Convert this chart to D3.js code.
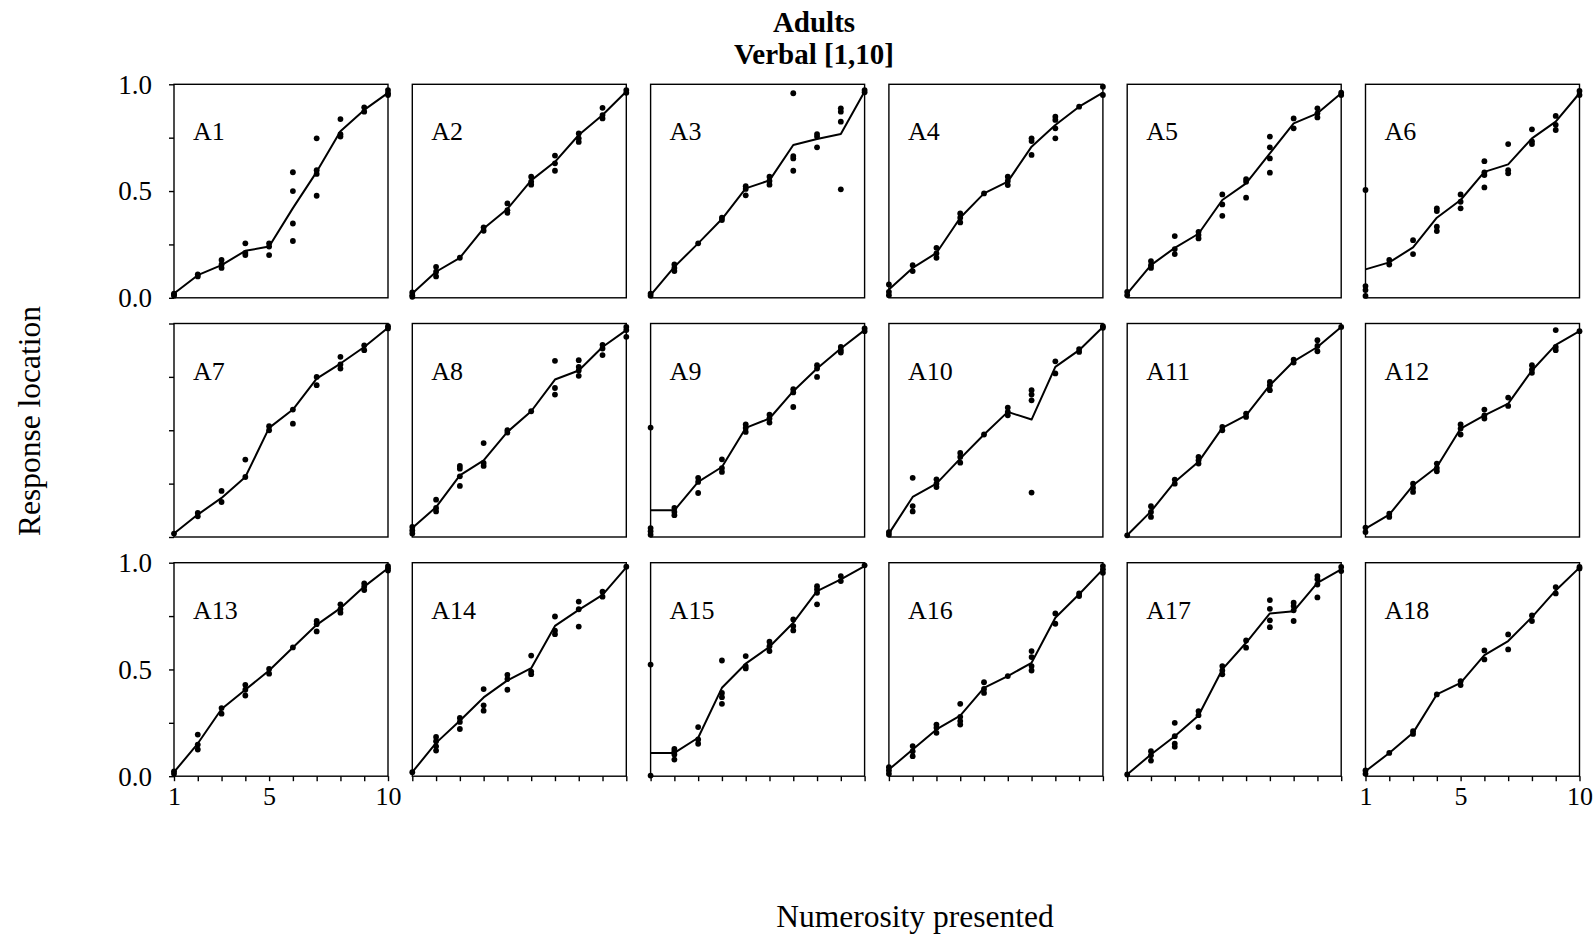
<!DOCTYPE html>
<html>
<head>
<meta charset="utf-8">
<script src="https://cdn.jsdelivr.net/npm/d3@7"></script>
<style>
  html, body { margin: 0; padding: 0; background: #fff; }
  svg { display: block; }
  text { font-family: "Liberation Serif", "Times New Roman", serif; fill: #000; }
</style>
</head>
<body>
<svg id="chart" width="1596" height="938"></svg>
<script>
// Numerosities presented on every trial (x values)
const numerosities = [1, 2, 3, 4, 5, 6, 7, 8, 9, 10];

// Y-axis tick values and labels
const yTickValues = [0, 0.25, 0.5, 0.75, 1];
const yTickLabels = [0, 0.5, 1];
const xTickLabels = [1, 5, 10];

// Per-participant mean response line (one value per numerosity)
const lineA1 = [0.02, 0.106, 0.153, 0.22, 0.24, 0.42, 0.59, 0.78, 0.88, 0.96];
const lineA2 = [0.02, 0.122, 0.1875, 0.325, 0.416, 0.55, 0.637, 0.7625, 0.856, 0.966];
const lineA3 = [0.0125, 0.145, 0.255, 0.369, 0.5125, 0.55, 0.716, 0.744, 0.767, 0.966];
const lineA4 = [0.039, 0.14, 0.21, 0.375, 0.489, 0.544, 0.708, 0.809, 0.895, 0.961];
const lineA5 = [0.02, 0.153, 0.234, 0.30, 0.458, 0.536, 0.677, 0.817, 0.864, 0.958];
const lineA6 = [0.133, 0.166, 0.236, 0.375, 0.458, 0.59, 0.625, 0.747, 0.825, 0.958];
const lineA7 = [0.016, 0.105, 0.183, 0.281, 0.511, 0.597, 0.742, 0.8125, 0.89, 0.98];
const lineA8 = [0.042, 0.14, 0.289, 0.359, 0.492, 0.589, 0.7375, 0.78, 0.89, 0.969];
const lineA9 = [0.125, 0.125, 0.258, 0.328, 0.511, 0.555, 0.683, 0.789, 0.883, 0.969];
const lineA10 = [0.016, 0.1875, 0.25, 0.367, 0.48, 0.586, 0.55, 0.797, 0.875, 0.984];
const lineA11 = [0.008, 0.12, 0.258, 0.352, 0.511, 0.57, 0.711, 0.823, 0.89, 0.984];
const lineA12 = [0.039, 0.105, 0.242, 0.328, 0.508, 0.57, 0.625, 0.78, 0.9, 0.964];
const lineA13 = [0.019, 0.153, 0.315, 0.405, 0.495, 0.603, 0.709, 0.787, 0.888, 0.974];
const lineA14 = [0.019, 0.156, 0.26, 0.369, 0.449, 0.506, 0.704, 0.779, 0.849, 0.978];
const lineA15 = [0.109, 0.109, 0.18, 0.414, 0.527, 0.606, 0.719, 0.867, 0.922, 0.984];
const lineA16 = [0.031, 0.125, 0.219, 0.284, 0.414, 0.469, 0.531, 0.742, 0.852, 0.969];
const lineA17 = [0.008, 0.102, 0.1875, 0.284, 0.5, 0.625, 0.7625, 0.773, 0.906, 0.969];
const lineA18 = [0.023, 0.109, 0.203, 0.383, 0.4375, 0.567, 0.633, 0.745, 0.87, 0.977];

// Individual trial responses, grouped by numerosity 1..10
const dotsA1 = [[0.02, 0.01, 0.015], [0.11, 0.10], [0.177, 0.156, 0.14], [0.255, 0.21, 0.20], [0.255, 0.24, 0.20],
  [0.588, 0.5, 0.348, 0.266], [0.747, 0.598, 0.58, 0.478], [0.837, 0.766, 0.755], [0.892, 0.872], [0.973, 0.958, 0.95]];
const dotsA2 = [[0.025, 0.0125, 0.005], [0.145, 0.122, 0.10], [0.1875], [0.33, 0.314], [0.442, 0.41, 0.398],
  [0.567, 0.544, 0.53], [0.666, 0.63, 0.595], [0.77, 0.747, 0.73], [0.89, 0.856, 0.84], [0.973, 0.96]];
const dotsA3 = [[0.02, 0.01], [0.156, 0.14, 0.125], [0.255], [0.375, 0.364], [0.523, 0.51, 0.48],
  [0.567, 0.547, 0.53], [0.958, 0.664, 0.653, 0.595], [0.767, 0.755, 0.705], [0.8875, 0.872, 0.825, 0.508], [0.973, 0.9625]];
const dotsA4 = [[0.0625, 0.028, 0.0125], [0.153, 0.125], [0.234, 0.208, 0.1875], [0.395, 0.375, 0.353], [0.489],
  [0.567, 0.547, 0.528], [0.747, 0.734, 0.669], [0.848, 0.833, 0.794, 0.747], [0.895], [0.989, 0.95]];
const dotsA5 = [[0.028, 0.0125], [0.172, 0.153, 0.14], [0.289, 0.228, 0.205], [0.309, 0.294, 0.278], [0.484, 0.4375, 0.384],
  [0.556, 0.544, 0.469], [0.755, 0.705, 0.653, 0.586], [0.84, 0.794], [0.8875, 0.864, 0.845], [0.961, 0.95]];
const dotsA6 = [[0.505, 0.055, 0.036, 0.009], [0.177, 0.156], [0.27, 0.205], [0.419, 0.406, 0.333, 0.3125], [0.484, 0.45, 0.419],
  [0.64, 0.5875, 0.575, 0.517], [0.72, 0.598, 0.583], [0.789, 0.733, 0.72], [0.852, 0.81, 0.786], [0.969, 0.95]];
const dotsA7 = [[0.016], [0.1125, 0.097], [0.216, 0.164], [0.3625, 0.281], [0.519, 0.5],
  [0.597, 0.531], [0.75, 0.711], [0.844, 0.808, 0.789], [0.898, 0.875], [0.9875, 0.977]];
const dotsA8 = [[0.047, 0.031, 0.016], [0.175, 0.136, 0.12], [0.333, 0.32, 0.284, 0.239], [0.44, 0.347, 0.333], [0.5, 0.489],
  [0.589], [0.825, 0.698, 0.667], [0.828, 0.797, 0.78, 0.755], [0.9, 0.883, 0.852], [0.984, 0.969, 0.9375]];
const dotsA9 = [[0.5125, 0.042, 0.027, 0.011], [0.136, 0.117, 0.102], [0.277, 0.258, 0.206], [0.364, 0.323, 0.305], [0.527, 0.511, 0.492],
  [0.573, 0.555, 0.536], [0.692, 0.677, 0.609], [0.805, 0.789, 0.75], [0.89, 0.875, 0.864], [0.977, 0.964]];
const dotsA10 = [[0.023, 0.011], [0.277, 0.145, 0.12], [0.27, 0.25, 0.234], [0.394, 0.375, 0.348], [0.48],
  [0.606, 0.586, 0.57], [0.6875, 0.667, 0.64, 0.208], [0.823, 0.766], [0.88, 0.867], [0.9875, 0.98]];
const dotsA11 = [[0.008], [0.144, 0.117, 0.094], [0.269, 0.25], [0.375, 0.359, 0.344], [0.516, 0.5],
  [0.578, 0.5625], [0.727, 0.711, 0.6875], [0.831, 0.817], [0.922, 0.895, 0.87], [0.984]];
const dotsA12 = [[0.044, 0.023], [0.109, 0.094], [0.25, 0.23, 0.211], [0.344, 0.323, 0.308], [0.527, 0.508, 0.48],
  [0.597, 0.57, 0.555], [0.653, 0.614], [0.805, 0.784, 0.769], [0.969, 0.89, 0.875], [0.964]];
const dotsA13 = [[0.023, 0.012], [0.195, 0.148, 0.125], [0.319, 0.293], [0.428, 0.405, 0.378], [0.502, 0.48],
  [0.603], [0.727, 0.712, 0.678], [0.805, 0.783, 0.766], [0.903, 0.888, 0.872], [0.984, 0.974, 0.963]];
const dotsA14 = [[0.019], [0.184, 0.164, 0.14, 0.12], [0.273, 0.254, 0.221], [0.408, 0.332, 0.307], [0.475, 0.455, 0.405],
  [0.565, 0.49, 0.478], [0.748, 0.682, 0.665], [0.818, 0.782, 0.701], [0.864, 0.841], [0.981]];
const dotsA15 = [[0.523, 0.003], [0.128, 0.117, 0.102, 0.078], [0.23, 0.172, 0.152], [0.542, 0.39, 0.37, 0.339], [0.5625, 0.516, 0.505],
  [0.63, 0.609, 0.586], [0.734, 0.703, 0.683], [0.89, 0.875, 0.859, 0.805], [0.9375, 0.914], [0.9875]];
const dotsA16 = [[0.042, 0.027, 0.011], [0.141, 0.117, 0.094], [0.242, 0.227, 0.203], [0.339, 0.278, 0.258, 0.242], [0.44, 0.409, 0.39],
  [0.469], [0.586, 0.558, 0.516, 0.495], [0.7625, 0.714], [0.856, 0.844], [0.984, 0.969, 0.953]];
const dotsA17 = [[0.008], [0.117, 0.098, 0.073], [0.25, 0.1875, 0.152, 0.1375], [0.305, 0.286, 0.23], [0.516, 0.495, 0.477],
  [0.636, 0.602], [0.825, 0.784, 0.73, 0.698], [0.8125, 0.797, 0.777, 0.727], [0.9375, 0.923, 0.898, 0.8375], [0.98, 0.961]];
const dotsA18 = [[0.027, 0.011], [0.109], [0.211, 0.198], [0.383], [0.445, 0.427],
  [0.589, 0.547], [0.664, 0.594], [0.753, 0.727], [0.886, 0.856], [0.98, 0.973]];

const panelIds = ["A1", "A2", "A3", "A4", "A5", "A6", "A7", "A8", "A9",
  "A10", "A11", "A12", "A13", "A14", "A15", "A16", "A17", "A18"];
const panelLines = [lineA1, lineA2, lineA3, lineA4, lineA5, lineA6, lineA7, lineA8, lineA9,
  lineA10, lineA11, lineA12, lineA13, lineA14, lineA15, lineA16, lineA17, lineA18];
const panelDots = [dotsA1, dotsA2, dotsA3, dotsA4, dotsA5, dotsA6, dotsA7, dotsA8, dotsA9,
  dotsA10, dotsA11, dotsA12, dotsA13, dotsA14, dotsA15, dotsA16, dotsA17, dotsA18];

// Grid layout
const nCols = 6, nRows = 3;
const left0 = 174, top0 = 84.3;
const pw = 214, ph = 213.5;
const stepX = 238.3, stepY = 239.2;
const fontFamily = '"Liberation Serif", "Times New Roman", serif';

const svg = d3.select("#chart");

const x = d3.scaleLinear().domain([1, 10]).range([0, pw]);
const y = d3.scaleLinear().domain([0, 1]).range([ph, 0]);

const line = d3.line()
  .x((d, i) => x(numerosities[i]))
  .y(d => y(d));

panelIds.forEach((id, k) => {
  const col = k % nCols, row = Math.floor(k / nCols);
  const g = svg.append("g")
    .attr("transform", `translate(${left0 + col * stepX},${top0 + row * stepY})`);

  // frame
  g.append("rect")
    .attr("x", 0).attr("y", 0)
    .attr("width", pw).attr("height", ph)
    .attr("fill", "none").attr("stroke", "#000").attr("stroke-width", 1.4);

  // y axis ticks on the first column
  if (col === 0) {
    const showLabels = row !== 1;
    const yAxis = d3.axisLeft(y)
      .tickValues(yTickValues)
      .tickSizeOuter(0)
      .tickSize(5)
      .tickPadding(6)
      .tickFormat(d => (showLabels && yTickLabels.includes(d)) ? d3.format(".1f")(d) : "");
    const ya = g.append("g").call(yAxis);
    ya.select(".domain").remove();
    ya.selectAll("line").attr("stroke", "#000").attr("stroke-width", 1.4);
    ya.selectAll("text")
      .attr("font-family", fontFamily)
      .attr("font-size", 27)
      .attr("fill", "#000")
      .attr("x", -22)
      .attr("dy", "0.33em");
  }

  // x axis ticks on the bottom row
  if (row === nRows - 1) {
    const showLabels = col === 0 || col === nCols - 1;
    const xAxis = d3.axisBottom(x)
      .tickValues(numerosities)
      .tickSizeOuter(0)
      .tickSize(5)
      .tickFormat(d => (showLabels && xTickLabels.includes(d)) ? String(d) : "");
    const xa = g.append("g").attr("transform", `translate(0,${ph})`).call(xAxis);
    xa.select(".domain").remove();
    xa.selectAll("line").attr("stroke", "#000").attr("stroke-width", 1.4);
    xa.selectAll("text")
      .attr("font-family", fontFamily)
      .attr("font-size", 26)
      .attr("fill", "#000")
      .attr("y", 10)
      .attr("dy", "0.71em");
  }

  // mean response line
  g.append("path")
    .datum(panelLines[k])
    .attr("d", line)
    .attr("fill", "none")
    .attr("stroke", "#000")
    .attr("stroke-width", 2)
    .attr("stroke-linejoin", "round");

  // individual responses
  const pts = [];
  panelDots[k].forEach((vals, i) => vals.forEach(v => pts.push({ n: numerosities[i], v })));
  g.selectAll("circle.resp")
    .data(pts)
    .join("circle")
    .attr("class", "resp")
    .attr("cx", d => x(d.n))
    .attr("cy", d => y(d.v))
    .attr("r", 2.9)
    .attr("fill", "#000");

  // participant label
  g.append("text")
    .attr("x", 19)
    .attr("y", 56)
    .attr("font-size", 26)
    .text(id);
});

// Title
svg.append("text")
  .attr("x", 814).attr("y", 31.5)
  .attr("text-anchor", "middle")
  .attr("font-size", 29)
  .attr("font-weight", "bold")
  .text("Adults");
svg.append("text")
  .attr("x", 814).attr("y", 63.5)
  .attr("text-anchor", "middle")
  .attr("font-size", 29)
  .attr("font-weight", "bold")
  .text("Verbal [1,10]");

// Axis titles
svg.append("text")
  .attr("transform", "translate(40,421) rotate(-90)")
  .attr("text-anchor", "middle")
  .attr("font-size", 31.5)
  .text("Response location");

svg.append("text")
  .attr("x", 915).attr("y", 927)
  .attr("text-anchor", "middle")
  .attr("font-size", 31.5)
  .text("Numerosity presented");
</script>
</body>
</html>
